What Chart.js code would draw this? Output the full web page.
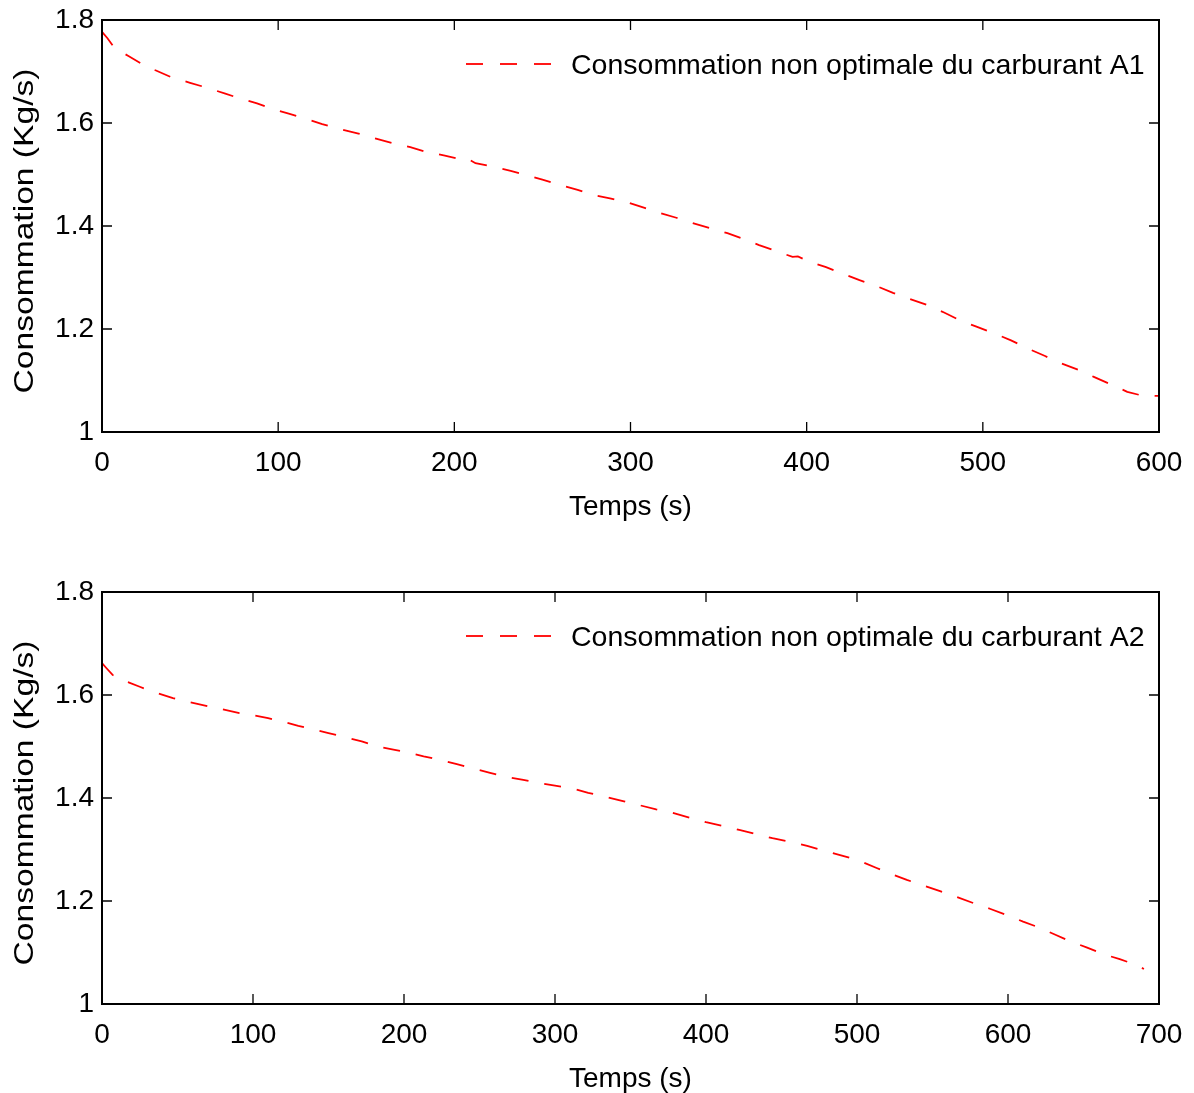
<!DOCTYPE html>
<html>
<head>
<meta charset="utf-8">
<script src="https://cdn.jsdelivr.net/npm/chart.js@4.4.1/dist/chart.umd.min.js"></script>
<style>
  html, body { margin: 0; background: #fff; overflow: hidden; }
  canvas { display: block; }
</style>
</head>
<body>
<canvas id="chartA1" width="1194" height="524"></canvas>
<canvas id="chartA2" width="1194" height="572"></canvas>
<script>
// Data
const timeA1 = [0, 3, 6, 10, 15, 22, 30, 40, 50, 60, 70, 78, 88, 97, 106, 116, 125, 135, 145, 155,
  165, 175, 184, 194, 203, 207, 212, 222, 232, 241, 250, 260, 270, 279, 289, 299, 308, 317, 326, 335,
  345, 355, 364, 373, 383, 392, 395, 402, 411, 420, 430, 440, 449, 458, 468, 478, 487, 496, 506, 516,
  525, 535, 544, 554, 563, 573, 582, 590, 600];
const consoA1 = [1.777, 1.765, 1.751, 1.740, 1.730, 1.716, 1.703, 1.688, 1.678, 1.668, 1.657, 1.648, 1.638, 1.627, 1.618, 1.608, 1.598, 1.588, 1.580, 1.570,
  1.561, 1.553, 1.544, 1.537, 1.530, 1.532, 1.522, 1.515, 1.507, 1.499, 1.490, 1.480, 1.470, 1.460, 1.453, 1.445, 1.435, 1.425, 1.416, 1.406,
  1.396, 1.386, 1.375, 1.363, 1.351, 1.340, 1.341, 1.330, 1.320, 1.308, 1.295, 1.283, 1.270, 1.259, 1.247, 1.232, 1.217, 1.205, 1.192, 1.178,
  1.163, 1.148, 1.134, 1.121, 1.107, 1.092, 1.078, 1.071, 1.070];

const timeA2 = [0, 3, 7, 12, 18, 25, 35, 47, 58, 69, 80, 91, 100, 110, 120, 130, 140, 150, 160, 172,
  184, 193, 202, 213, 224, 235, 245, 257, 268, 279, 290, 300, 311, 322, 334, 345, 356, 367, 378, 389,
  400, 411, 422, 433, 444, 456, 467, 478, 490, 501, 513, 523, 533, 544, 555, 566, 577, 588, 599, 610,
  621, 631, 641, 652, 663, 674, 685, 690];
const consoA2 = [1.662, 1.652, 1.639, 1.630, 1.624, 1.616, 1.605, 1.594, 1.586, 1.579, 1.572, 1.565, 1.561, 1.555, 1.548, 1.540, 1.533, 1.526, 1.519, 1.510,
  1.499, 1.494, 1.489, 1.481, 1.474, 1.466, 1.458, 1.449, 1.441, 1.435, 1.429, 1.424, 1.419, 1.410, 1.402, 1.394, 1.386, 1.378, 1.371, 1.362,
  1.353, 1.346, 1.338, 1.330, 1.322, 1.315, 1.307, 1.298, 1.288, 1.279, 1.264, 1.252, 1.241, 1.230, 1.219, 1.208, 1.196, 1.185, 1.173, 1.160,
  1.148, 1.135, 1.122, 1.110, 1.097, 1.087, 1.076, 1.068];

const yTicks = [1, 1.2, 1.4, 1.6, 1.8];
const labelA1 = 'Consommation non optimale du carburant A1';
const labelA2 = 'Consommation non optimale du carburant A2';
const xLabel = 'Temps (s)';
const yLabel = 'Consommation (Kg/s)';

const FONT = 'Liberation Sans, Arial, Helvetica, sans-serif';

// Matlab style box with inward ticks, stretched y title and legend inside the axes
const matlabBox = {
  id: 'matlabBox',
  afterDraw(chart) {
    const ctx = chart.ctx;
    const a = chart.chartArea;
    const xs = chart.scales.x;
    const ys = chart.scales.y;
    const len = 10;
    ctx.save();
    ctx.strokeStyle = '#000';
    ctx.lineWidth = 1.3;
    ctx.beginPath();
    xs.ticks.forEach(t => {
      const px = xs.getPixelForValue(t.value);
      if (px <= a.left + 1 || px >= a.right - 1) return;
      ctx.moveTo(px, a.bottom); ctx.lineTo(px, a.bottom - len);
      ctx.moveTo(px, a.top); ctx.lineTo(px, a.top + len);
    });
    ys.ticks.forEach(t => {
      const py = ys.getPixelForValue(t.value);
      if (py <= a.top + 1 || py >= a.bottom - 1) return;
      ctx.moveTo(a.left, py); ctx.lineTo(a.left + len, py);
      ctx.moveTo(a.right, py); ctx.lineTo(a.right - len, py);
    });
    ctx.stroke();
    ctx.lineWidth = 2;
    ctx.strokeRect(a.left, a.top, a.right - a.left, a.bottom - a.top);

    // y title (the original figure is stretched vertically)
    ctx.fillStyle = '#000';
    ctx.save();
    ctx.translate(25, (a.top + a.bottom) / 2 + 5);
    ctx.rotate(-Math.PI / 2);
    ctx.scale(1.2, 1);
    ctx.font = '28px ' + FONT;
    ctx.textAlign = 'center';
    ctx.textBaseline = 'middle';
    ctx.fillText(yLabel, 0, 0);
    ctx.restore();

    // legend
    const ds = chart.data.datasets[0];
    const ly = a.top + 45;
    ctx.strokeStyle = ds.borderColor;
    ctx.lineWidth = ds.borderWidth;
    ctx.setLineDash([17, 17]);
    ctx.beginPath();
    ctx.moveTo(466, ly - 1);
    ctx.lineTo(554, ly - 1);
    ctx.stroke();
    ctx.setLineDash([]);
    ctx.font = '28.5px ' + FONT;
    ctx.textBaseline = 'middle';
    ctx.textAlign = 'left';
    ctx.fillText(ds.label, 571, ly + 1);
    ctx.restore();
  }
};

function makeChart(id, times, values, label, xMax, padTop) {
  const ctx = document.getElementById(id).getContext('2d');
  return new Chart(ctx, {
    type: 'line',
    data: {
      datasets: [{
        label: label,
        data: times.map((t, i) => ({ x: t, y: values[i] })),
        borderColor: '#ff0000',
        borderWidth: 1.8,
        borderDash: [17, 16],
        pointRadius: 0,
        tension: 0,
        fill: false
      }]
    },
    options: {
      responsive: false,
      animation: false,
      layout: { padding: { top: padTop, right: 35, left: 0, bottom: 0 } },
      plugins: { legend: { display: false }, tooltip: { enabled: false } },
      scales: {
        x: {
          type: 'linear',
          min: 0,
          max: xMax,
          afterFit: s => { s.height = 92; s.paddingLeft = 0; s.paddingRight = 0; },
          grid: { display: false, drawTicks: false },
          border: { display: false },
          ticks: { stepSize: 100, color: '#000', font: { family: FONT, size: 28 }, padding: 14, maxRotation: 0 },
          title: { display: true, text: xLabel, color: '#000', font: { family: FONT, size: 28 }, padding: { top: 0, bottom: 0 } }
        },
        y: {
          min: 1,
          max: 1.8,
          afterFit: s => { s.width = 102; s.paddingTop = 0; s.paddingBottom = 0; },
          afterBuildTicks: s => { s.ticks = yTicks.map(v => ({ value: v })); },
          grid: { display: false, drawTicks: false },
          border: { display: false },
          ticks: {
            color: '#000', font: { family: FONT, size: 28 }, padding: 8,
            callback: v => String(+v.toFixed(1))
          },
          title: { display: false }
        }
      }
    },
    plugins: [matlabBox]
  });
}

makeChart('chartA1', timeA1, consoA1, labelA1, 600, 20);
makeChart('chartA2', timeA2, consoA2, labelA2, 700, 68);
</script>
</body>
</html>
